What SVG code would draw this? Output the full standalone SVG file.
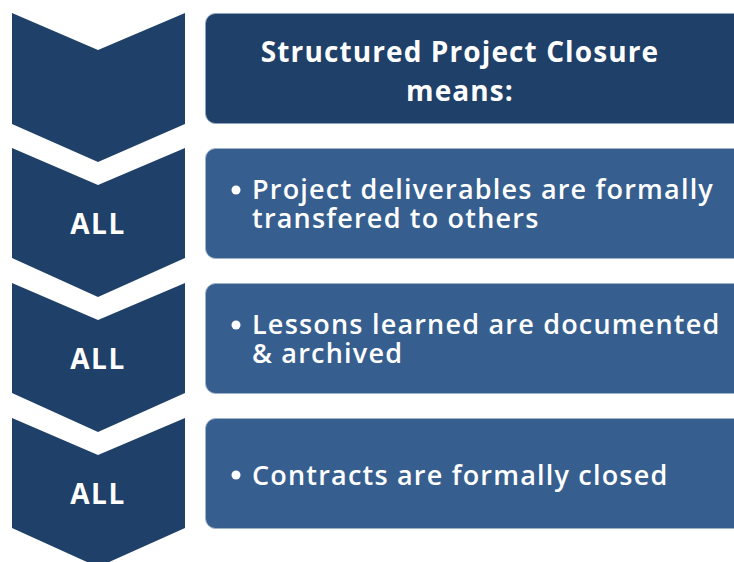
<svg xmlns="http://www.w3.org/2000/svg" width="734" height="562" viewBox="0 0 734 562">
<style>
.chev{fill:#1F4068}
.hdr{fill:#1F4068;stroke:#8FA3BD;stroke-width:1}
.box{fill:#365F8F;stroke:#9FB2C9;stroke-width:1}
text{font-family:"Open Sans","Liberation Sans",sans-serif;fill:#FFFFFF}
.all{font-size:28px;font-weight:700;text-anchor:middle;letter-spacing:1.5px}
.h{font-size:28px;font-weight:700;text-anchor:middle;letter-spacing:1.1px}
.b{font-size:27px;font-weight:600;letter-spacing:1.2px}
</style>
<rect width="734" height="562" fill="#FFFFFF"/>
<g id="chevron1"><path class="chev" d="M12,13 L98,50 L185,13 L185,124 L98,162 L12,124 Z"/></g>
<g id="chevron2"><path class="chev" d="M12,148 L98,185 L185,148 L185,258 L98,297 L12,258 Z"/><text class="all" x="98" y="234">ALL</text></g>
<g id="chevron3"><path class="chev" d="M12,283 L98,320 L185,283 L185,393 L98,432 L12,393 Z"/><text class="all" x="98" y="369">ALL</text></g>
<g id="chevron4"><path class="chev" d="M12,418 L98,455 L185,418 L185,528 L98,567 L12,528 Z"/><text class="all" x="98" y="504">ALL</text></g>
<g id="header"><rect class="hdr" x="205.5" y="13.5" width="545" height="110" rx="10"/>
<text class="h" x="460" y="62">Structured Project Closure</text>
<text class="h" x="460" y="101">means:</text></g>
<g id="item1"><rect class="box" x="205.5" y="148.5" width="545" height="110" rx="10"/>
<circle cx="236" cy="190" r="4.5" fill="#FFFFFF"/>
<text class="b" x="252" y="199">Project deliverables are formally</text>
<text class="b" x="252" y="228">transfered to others</text></g>
<g id="item2"><rect class="box" x="205.5" y="283.5" width="545" height="110" rx="10"/>
<circle cx="236" cy="325" r="4.5" fill="#FFFFFF"/>
<text class="b" x="252" y="334">Lessons learned are documented</text>
<text class="b" x="252" y="363">&amp; archived</text></g>
<g id="item3"><rect class="box" x="205.5" y="418.5" width="545" height="110" rx="10"/>
<circle cx="236" cy="475" r="4.5" fill="#FFFFFF"/>
<text class="b" x="252" y="485">Contracts are formally closed</text></g>
<g id="connectors"></g>
</svg>
